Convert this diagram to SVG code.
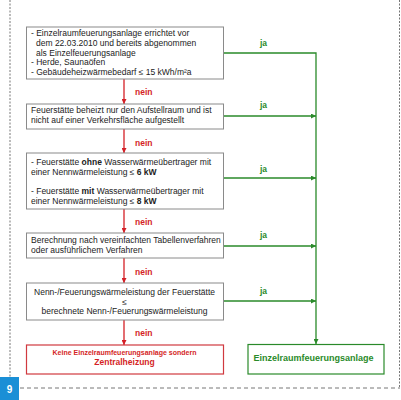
<svg xmlns="http://www.w3.org/2000/svg" width="401" height="400" viewBox="0 0 401 400">
<style>
text{font-family:"Liberation Sans",Arial,sans-serif;}
.t{font-size:8.5px;fill:#222;}
.b{font-weight:bold;}
.box{fill:#fff;stroke:#8a8a8a;stroke-width:1;}
.red{stroke:#d41f26;stroke-width:1.3;fill:none;}
.grn{stroke:#2a8a2a;stroke-width:1.3;fill:none;}
.nein{font-size:8.5px;font-weight:bold;fill:#d41f26;}
.ja{font-size:8.5px;font-weight:bold;fill:#2a8a2a;}
.frame{stroke:#777;stroke-width:1;fill:none;}
</style>
<defs>
<marker id="ar" viewBox="0 0 10 10" refX="10" refY="5" markerWidth="5" markerHeight="5" markerUnits="userSpaceOnUse" orient="auto"><path d="M0,0 L10,5 L0,10 z" fill="#d41f26"/></marker>
<marker id="ag" viewBox="0 0 10 10" refX="10" refY="5" markerWidth="5" markerHeight="5" markerUnits="userSpaceOnUse" orient="auto"><path d="M0,0 L10,5 L0,10 z" fill="#2a8a2a"/></marker>
</defs>
<rect width="401" height="400" fill="#fff"/>
<g id="frame">
<line class="frame" x1="10" y1="0" x2="10" y2="377" stroke-dasharray="2,1.5"/>
<line class="frame" x1="399.5" y1="0" x2="399.5" y2="388" stroke-dasharray="2,1.5"/>
<line class="frame" x1="20" y1="388" x2="400" y2="388" stroke-dasharray="4,3"/>
<rect x="0" y="377" width="19" height="23" fill="#1a8fd6"/>
<text x="9.5" y="393" font-size="10" font-weight="bold" fill="#fff" text-anchor="middle">9</text>
</g>
<g id="connectors">
<line class="red" x1="124" y1="79" x2="124" y2="104" marker-end="url(#ar)"/>
<line class="red" x1="124" y1="129" x2="124" y2="153" marker-end="url(#ar)"/>
<line class="red" x1="124" y1="209" x2="124" y2="233" marker-end="url(#ar)"/>
<line class="red" x1="124" y1="258" x2="124" y2="283" marker-end="url(#ar)"/>
<line class="red" x1="124" y1="320" x2="124" y2="345" marker-end="url(#ar)"/>
<text class="nein" x="135" y="95">nein</text>
<text class="nein" x="135" y="146">nein</text>
<text class="nein" x="135" y="225">nein</text>
<text class="nein" x="135" y="275">nein</text>
<text class="nein" x="135" y="336">nein</text>
<polyline class="grn" points="224,53 316,53 316,344" marker-end="url(#ag)"/>
<line class="grn" x1="224" y1="116" x2="316" y2="116" marker-end="url(#ag)"/>
<line class="grn" x1="224" y1="178" x2="316" y2="178" marker-end="url(#ag)"/>
<line class="grn" x1="224" y1="246" x2="316" y2="246" marker-end="url(#ag)"/>
<line class="grn" x1="224" y1="301" x2="316" y2="301" marker-end="url(#ag)"/>
<text class="ja" x="260" y="46">ja</text>
<text class="ja" x="260" y="108">ja</text>
<text class="ja" x="260" y="172">ja</text>
<text class="ja" x="260" y="238">ja</text>
<text class="ja" x="260" y="294">ja</text>
</g>
<g id="n1">
<rect class="box" x="26.5" y="27" width="197" height="52"/>
<text class="t" x="31" y="36">- Einzelraumfeuerungsanlage errichtet vor</text>
<text class="t" x="36" y="46">dem 22.03.2010 und bereits abgenommen</text>
<text class="t" x="36" y="55.5">als Einzelfeuerungsanlage</text>
<text class="t" x="31" y="65">- Herde, Saunaöfen</text>
<text class="t" x="31" y="75">- Gebäudeheizwärmebedarf ≤ 15 kWh/m²a</text>
</g>
<g id="n2">
<rect class="box" x="26.5" y="104" width="197" height="25"/>
<text class="t" x="31" y="113">Feuerstätte beheizt nur den Aufstellraum und ist</text>
<text class="t" x="31" y="122.5">nicht auf einer Verkehrsfläche aufgestellt</text>
</g>
<g id="n3">
<rect class="box" x="26.5" y="153" width="197" height="56"/>
<text class="t" x="31" y="165">- Feuerstätte <tspan class="b">ohne</tspan> Wasserwärmeübertrager mit</text>
<text class="t" x="31" y="175">einer Nennwärmeleistung ≤ <tspan class="b">6 kW</tspan></text>
<text class="t" x="31" y="194">- Feuerstätte <tspan class="b">mit</tspan> Wasserwärmeübertrager mit</text>
<text class="t" x="31" y="203.5">einer Nennwärmeleistung ≤ <tspan class="b">8 kW</tspan></text>
</g>
<g id="n4">
<rect class="box" x="26.5" y="233" width="197" height="25"/>
<text class="t" x="31" y="243">Berechnung nach vereinfachten Tabellenverfahren</text>
<text class="t" x="31" y="253">oder ausführlichem Verfahren</text>
</g>
<g id="n5">
<rect class="box" x="26.5" y="283" width="197" height="37"/>
<text class="t" x="124.5" y="295" text-anchor="middle">Nenn-/Feuerungswärmeleistung der Feuerstätte</text>
<text class="t" x="124.5" y="305" text-anchor="middle">≤</text>
<text class="t" x="124.5" y="314" text-anchor="middle">berechnete Nenn-/Feuerungswärmeleistung</text>
</g>
<g id="n6">
<rect x="26.5" y="345" width="197" height="29" fill="#fff" stroke="#d0393f" stroke-width="1.2"/>
<text x="124.5" y="354.5" font-size="7" font-weight="bold" fill="#d41f26" text-anchor="middle">Keine Einzelraumfeuerungsanlage sondern</text>
<text x="124.5" y="364.5" font-size="8.5" font-weight="bold" fill="#d41f26" text-anchor="middle">Zentralheizung</text>
</g>
<g id="n7">
<rect x="248" y="344.5" width="136" height="29.5" fill="#fff" stroke="#2a8a2a" stroke-width="1.2"/>
<text x="313.5" y="360.5" font-size="9" font-weight="bold" fill="#2a8a2a" text-anchor="middle">Einzelraumfeuerungsanlage</text>
</g>
</svg>
